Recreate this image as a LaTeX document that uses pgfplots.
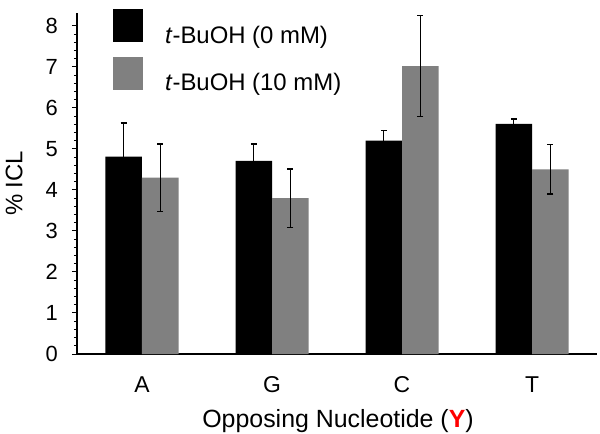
\documentclass[border=0pt]{standalone}
\usepackage{fontspec}
\setmainfont{Liberation Sans}
\usepackage{pgfplots}
\pgfplotsset{compat=1.18}
\definecolor{bargray}{RGB}{128,128,128}

% x  y  err
\pgfplotstableread{
x y e
0 4.81 0.82
1 4.71 0.41
2 5.20 0.24
3 5.61 0.12
}\nomM
\pgfplotstableread{
x y e
0 4.30 0.82
1 3.80 0.71
2 7.02 1.23
3 4.50 0.60
}\tenmM

\begin{document}
\begin{tikzpicture}
\begin{axis}[
  at={(0,0)}, anchor=south west,
  scale only axis, width=520bp, height=341.3bp,
  xmin=-0.5, xmax=3.5, ymin=0, ymax=8.32,
  axis lines=left,
  axis line style={-, line width=1.2bp},
  ybar=0pt, bar width=36.5bp,
  xtick={0,1,2,3}, xticklabels={A,G,C,T},
  x tick style={draw=none},
  ytick={0,1,...,8}, minor y tick num=4,
  tick align=outside, major tick length=5bp, minor tick length=3bp,
  y tick style={line width=1bp, black},
  /pgf/number format/assume math mode=true,
  yticklabel style={font=\fontsize{22}{22}\selectfont, anchor=east, inner sep=0pt, xshift=-14bp},
  xticklabel style={font=\fontsize{23}{23}\selectfont, anchor=base, inner sep=0pt, yshift=-33bp},
  ylabel={\% ICL},
  ylabel style={font=\fontsize{24}{24}\selectfont, at={(axis description cs:-0.121,0.5)}, anchor=center},
  xlabel={Opposing Nucleotide (\textcolor{red}{\textbf{Y}})},
  xlabel style={font=\fontsize{25}{25}\selectfont, at={(axis description cs:0.502,0)}, anchor=base, yshift=-73bp},
  legend cell align=left,
  legend image code/.code={\fill[#1] (0bp,-7bp) rectangle (30bp,26bp);},
  legend style={draw=none, fill=none, at={(axis description cs:0.069,1.0108)}, anchor=north west,
    inner sep=0pt, nodes={inner sep=0pt}, column sep=22bp, row sep=12bp,
    font=\fontsize{24}{24}\selectfont},
  error bars/error bar style={line width=1.2bp, black},
  error bars/error mark options={rotate=90, mark size=3bp, line width=1.2bp, black},
]
\addplot[fill=black, draw=none, error bars/.cd, y dir=both, y explicit]
  table[x=x, y=y, y error=e] {\nomM};
\addlegendentry{\textit{t}-BuOH (0 mM)}
\addplot[fill=bargray, draw=none, error bars/.cd, y dir=both, y explicit]
  table[x=x, y=y, y error=e] {\tenmM};
\addlegendentry{\textit{t}-BuOH (10 mM)}
\end{axis}
\pgfresetboundingbox
\path (-77bp,-80bp) rectangle (523bp,354bp);
\end{tikzpicture}
\end{document}
